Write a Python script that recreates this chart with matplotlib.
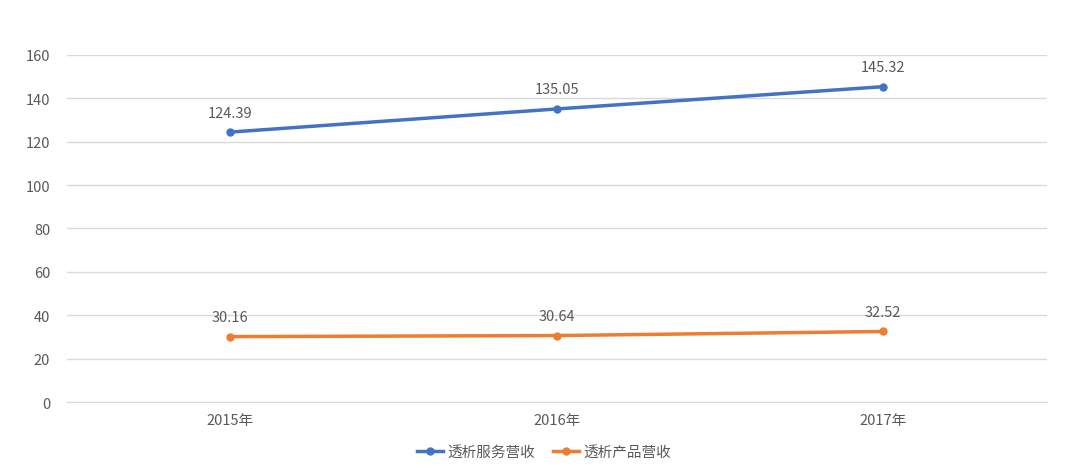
import matplotlib
matplotlib.use('Agg')
import matplotlib.pyplot as plt

plt.rcParams['font.family'] = ['Noto Sans CJK SC', 'DejaVu Sans']

years = ['2015年', '2016年', '2017年']
service = [124.39, 135.05, 145.32]
product = [30.16, 30.64, 32.52]
yticks = [0, 20, 40, 60, 80, 100, 120, 140, 160]

grey = '#595959'
blue = '#4472C4'
orange = '#ED7D31'

fig = plt.figure(figsize=(10.8, 4.77), dpi=100)
ax = fig.add_axes((0.062, 0.155, 0.907, 0.728))

x = list(range(len(years)))
ax.plot(x, service, color=blue, lw=2.5, marker='o', ms=5, label='透析服务营收', zorder=3)
ax.plot(x, product, color=orange, lw=2.5, marker='o', ms=5, label='透析产品营收', zorder=3)

for xi, v in zip(x, service):
    ax.annotate(f'{v:.2f}', (xi, v), xytext=(0, 9), textcoords='offset points',
                ha='center', va='bottom', fontsize=10.5, color=grey)
for xi, v in zip(x, product):
    ax.annotate(f'{v:.2f}', (xi, v), xytext=(0, 9), textcoords='offset points',
                ha='center', va='bottom', fontsize=10.5, color=grey)

ax.set_xlim(-0.5, 2.5)
ax.set_ylim(0, 160)
ax.set_yticks(yticks)
ax.set_xticks(x)
ax.set_xticklabels(years)
ax.grid(axis='y', color='#D9D9D9', lw=1)
ax.set_axisbelow(True)
for s in ['top', 'right', 'left']:
    ax.spines[s].set_visible(False)
ax.spines['bottom'].set_color('#D9D9D9')
ax.tick_params(axis='both', length=0, labelsize=10.5, labelcolor=grey)
ax.tick_params(axis='y', pad=12)
ax.tick_params(axis='x', pad=8)

ax.legend(loc='upper center', bbox_to_anchor=(0.487, -0.085), ncol=2, frameon=False,
          fontsize=10.5, labelcolor=grey, handlelength=1.8, handletextpad=0.3,
          columnspacing=1.2)

fig.savefig('out.png', dpi=100, facecolor='white')
